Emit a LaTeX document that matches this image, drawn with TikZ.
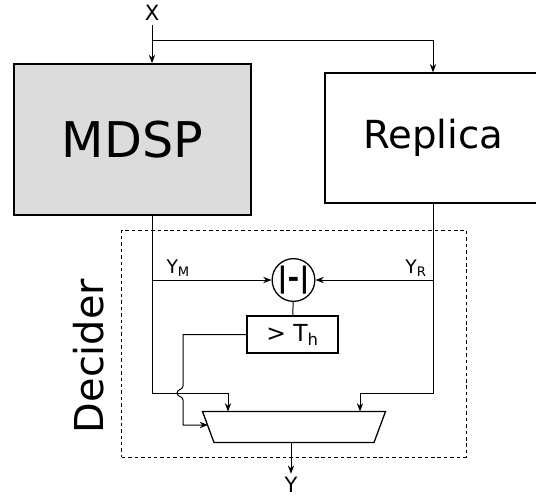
\documentclass[tikz,border=0pt]{standalone}
\usepackage{fontspec}
\setmainfont{DejaVu Sans}
\usetikzlibrary{positioning, shapes.geometric, arrows.meta, calc}
\definecolor{mdspgray}{HTML}{DCDCDC}

\begin{document}
\begin{tikzpicture}[
    x=0.03cm, y=-0.03cm,
    >={Stealth[length=2.5mm, width=1.9mm]},
    line width=0.85pt,
    arrow/.style={
        ->,
        line width=0.85pt
    },
    block/.style={
        rectangle,
        draw,
        inner sep=0pt,
        align=center
    },
    mainblock/.style={
        block,
        fill=mdspgray,
        line width=1.5pt,
        minimum width=7.11cm,
        minimum height=4.53cm,
        font=\fontsize{42}{50}\selectfont
    },
    replblock/.style={
        block,
        line width=1.1pt,
        minimum width=6.48cm,
        minimum height=3.9cm,
        font=\fontsize{33}{40}\selectfont
    },
    thrbox/.style={
        block,
        line width=1.1pt,
        minimum width=2.73cm,
        minimum height=1.11cm,
        font=\fontsize{20}{24}\selectfont
    },
    diffnode/.style={
        circle,
        draw,
        line width=1.1pt,
        inner sep=0pt,
        minimum size=1.14cm,
        font=\fontsize{24}{28}\selectfont\bfseries
    },
    muxarea/.style={
        rectangle,
        inner sep=0pt,
        minimum width=5.46cm,
        minimum height=0.9cm
    },
    muxline/.style={
        line width=1.1pt,
        line join=miter
    },
    decbox/.style={
        rectangle,
        draw,
        line width=0.8pt,
        dash pattern=on 3pt off 2.5pt,
        minimum width=10.33cm,
        minimum height=6.81cm
    },
    lbl/.style={
        inner sep=2pt,
        font=\fontsize{18}{22}\selectfont
    },
    sig/.style={
        inner sep=0pt,
        font=\fontsize{16}{19}\selectfont
    }
]

    \useasboundingbox (0,0) rectangle (536,498);

    % Decider frame
    \node[decbox] (dec) at (293.9,343.5) {};
    \node[anchor=base, rotate=90, inner sep=0pt, font=\fontsize{34}{40}\selectfont] (declbl) at (103,356) {Decider};

    % Input
    \node[lbl, anchor=base] (x) at (152,20) {X};
    \coordinate (split) at (152,40);

    % Blocks
    \node[mainblock] (mdsp) at (132.5,139.5) {MDSP};
    \node[replblock] (replica) at (433,138) {Replica};
    \draw[arrow, shorten <=2pt] (x.south) -- (x |- mdsp.north);
    \draw[arrow] (split) -| (replica.north);

    % Difference and threshold
    \node[diffnode] (diff) at (293.5,280) {|-|};
    \node[thrbox] (thr) at (292.5,334.5) {> T\textsubscript{h}};
    \draw[arrow] (split |- diff) -- (diff);
    \draw[arrow] (replica.south |- diff) -- (diff);
    \draw (diff) -- (thr);

    \node[sig, anchor=base west] (yM) at (166,273) {Y\textsubscript{M}};
    \node[sig, anchor=base east] (yR) at (427,273) {Y\textsubscript{R}};

    % Selector
    \node[muxarea] (mux) at (294,427) {};
    \draw[muxline] (mux.north west) -- (mux.north east)
        -- ($(mux.south east)+(-11.5,0)$) -- ($(mux.south west)+(11.5,0)$) -- cycle;
    \coordinate (muxsel) at ($(mux.west)+(5.5,-2)$);
    \coordinate (bendM) at (228,393);
    \coordinate (bendR) at (360,393);
    \coordinate (jump) at (183,393);
    \draw[arrow] (split |- mdsp.south) |- (bendM) -- (bendM |- mux.north);
    \draw[arrow] (replica.south) |- (bendR) -- (bendR |- mux.north);
    \draw[arrow] (thr.west) -| ($(jump)+(0,-7)$)
        .. controls ($(jump)+(0,-3)$) and ($(jump)+(-6,-4)$) .. ($(jump)+(-6,0)$)
        .. controls ($(jump)+(-6,4)$) and ($(jump)+(0,3)$) .. ($(jump)+(0,7)$)
        |- (muxsel);

    % Output
    \node[lbl, anchor=base] (y) at (291,492) {Y};
    \draw[arrow] (y |- mux.south) -- (y.north);

\end{tikzpicture}
\end{document}
